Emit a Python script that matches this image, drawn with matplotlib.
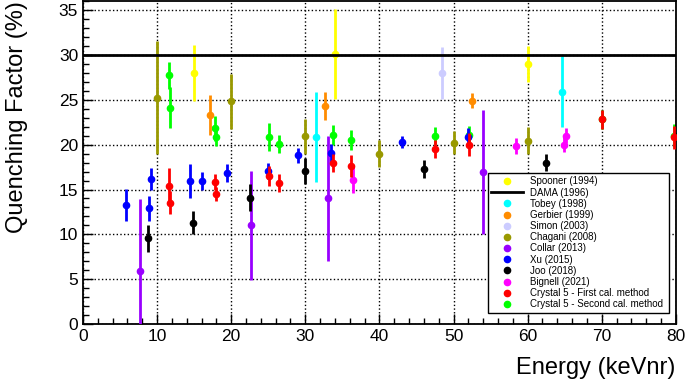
import numpy as np
import matplotlib
matplotlib.use("Agg")
import matplotlib.pyplot as plt
from matplotlib.lines import Line2D
from matplotlib.ticker import MultipleLocator

plt.rcParams['font.family'] = ['Liberation Sans', 'DejaVu Sans']

# ---------------- data (energy keVnr, QF %, error %) ----------------
spooner_x = [15.0, 34.0, 60.0]
spooner_y = [28.0, 30.1, 29.0]
spooner_e = [3.1, 5.0, 2.0]

dama_qf = 30.0

tobey_x = [31.4, 64.7]
tobey_y = [20.8, 25.9]
tobey_e = [5.0, 4.0]

gerbier_x = [17.1, 32.7, 52.5]
gerbier_y = [23.3, 24.3, 24.9]
gerbier_e = [2.2, 1.6, 0.85]

simon_x = [48.5]
simon_y = [28.0]
simon_e = [2.9]

chagani_x = [10.0, 20.0, 30.0, 40.0, 50.0, 60.0]
chagani_y = [25.2, 24.8, 20.9, 19.0, 20.2, 20.4]
chagani_e = [6.3, 3.1, 2.0, 1.5, 1.3, 1.5]

collar_x = [7.7, 22.7, 33.1, 54.0]
collar_y = [5.9, 11.0, 14.0, 17.0]
collar_e = [8.0, 6.1, 6.9, 6.9]

xu_x = [5.8, 8.9, 9.2, 14.4, 16.1, 19.4, 25.0, 29.0, 33.4, 43.0, 51.9]
xu_y = [13.3, 12.9, 16.2, 15.9, 16.0, 16.8, 17.1, 18.8, 19.1, 20.3, 20.8]
xu_e = [1.8, 1.4, 1.2, 1.9, 1.0, 1.0, 0.9, 0.8, 1.0, 0.7, 1.0]

joo_x = [8.8, 14.9, 22.6, 30.0, 46.0, 62.5]
joo_y = [9.6, 11.3, 14.1, 17.1, 17.3, 18.0]
joo_e = [1.5, 1.3, 1.5, 1.45, 1.0, 0.9]

bignell_x = [36.4, 58.4, 64.9, 65.2]
bignell_y = [16.1, 19.85, 20.0, 21.0]
bignell_e = [1.5, 0.9, 0.8, 0.8]

c5_x = [11.6, 11.75, 17.8, 17.9, 25.15, 26.45, 33.75, 36.1, 47.5, 52.05, 70.0, 79.7]
c5a_y = [15.4, 13.55, 15.8, 14.5, 16.5, 15.7, 17.9, 17.6, 19.5, 20.0, 22.8, 20.8]
c5a_e = [2.0, 1.3, 0.9, 0.8, 1.1, 1.0, 1.0, 1.2, 1.0, 1.3, 1.1, 1.3]
c5b_y = [27.7, 24.1, 21.8, 20.85, 20.85, 20.1, 21.1, 20.55, 21.0, 21.1, 22.8, 21.0]
c5b_e = [1.5, 2.3, 1.4, 1.0, 1.6, 1.0, 1.1, 1.1, 0.9, 1.0, 1.1, 1.3]
##################################################

fig = plt.figure(figsize=(6.87, 3.82), dpi=100)
ax = fig.add_axes([0.1208, 0.151, 0.863, 0.847])

def pts(x, y, e, c, z=3):
    ax.errorbar(x, y, yerr=e, fmt='o', color=c, ms=4.5, elinewidth=2,
                capsize=0, zorder=z, clip_on=True)

pts(c5_x, c5b_y, c5b_e, '#00ff00', 2)
pts(spooner_x, spooner_y, spooner_e, '#ffff00')
pts(tobey_x, tobey_y, tobey_e, '#00ffff')
pts(gerbier_x, gerbier_y, gerbier_e, '#ff8c00')
pts(simon_x, simon_y, simon_e, '#ccccff')
pts(chagani_x, chagani_y, chagani_e, '#999900')
pts(collar_x, collar_y, collar_e, '#9900ff')
pts(xu_x, xu_y, xu_e, '#0000ff')
pts(joo_x, joo_y, joo_e, 'black')
pts(bignell_x, bignell_y, bignell_e, '#ff00ff')
pts(c5_x, c5a_y, c5a_e, '#ff0000', 4)
ax.axhline(dama_qf, color='black', lw=2, zorder=5)

ax.set_xlim(0, 80)
ax.set_ylim(0, 36)
ax.xaxis.set_major_locator(MultipleLocator(10))
ax.xaxis.set_minor_locator(MultipleLocator(2))
ax.yaxis.set_major_locator(MultipleLocator(5))
ax.yaxis.set_minor_locator(MultipleLocator(1))
ax.tick_params(which='both', direction='in', labelsize=12.5, width=1)
ax.tick_params(which='major', length=7)
ax.tick_params(which='minor', length=4)
ax.grid(True, which='major', ls=':', color='black', lw=1)
for s in ax.spines.values():
    s.set_linewidth(1.3)

ax.set_xlabel('Energy (keVnr)', fontsize=17, loc='right', labelpad=9)
ax.set_ylabel('Quenching Factor (%)', fontsize=17, loc='top', labelpad=22)

labels = ['Spooner (1994)', 'DAMA (1996)', 'Tobey (1998)', 'Gerbier (1999)',
          'Simon (2003)', 'Chagani (2008)', 'Collar (2013)', 'Xu (2015)',
          'Joo (2018)', 'Bignell (2021)', 'Crystal 5 - First cal. method',
          'Crystal 5 - Second cal. method']
cols = ['#ffff00', 'black', '#00ffff', '#ff8c00', '#ccccff', '#999900',
        '#9900ff', '#0000ff', 'black', '#ff00ff', '#ff0000', '#00ff00']
handles = []
for lab, c in zip(labels, cols):
    if lab.startswith('DAMA'):
        handles.append(Line2D([], [], color=c, lw=2))
    else:
        handles.append(Line2D([], [], color=c, marker='o', ls='', ms=4.5))
leg = ax.legend(handles, labels, loc='lower left',
                bbox_to_anchor=(0.6825, 0.036, 0.306, 0.429), mode='expand',
                borderaxespad=0, fontsize=7, labelspacing=0.12,
                handlelength=3.3, handletextpad=0.7, borderpad=0.35,
                fancybox=False, framealpha=1, edgecolor='black')
leg.get_frame().set_linewidth(1)
leg.set_zorder(10)

fig.savefig('out.png', dpi=100)
